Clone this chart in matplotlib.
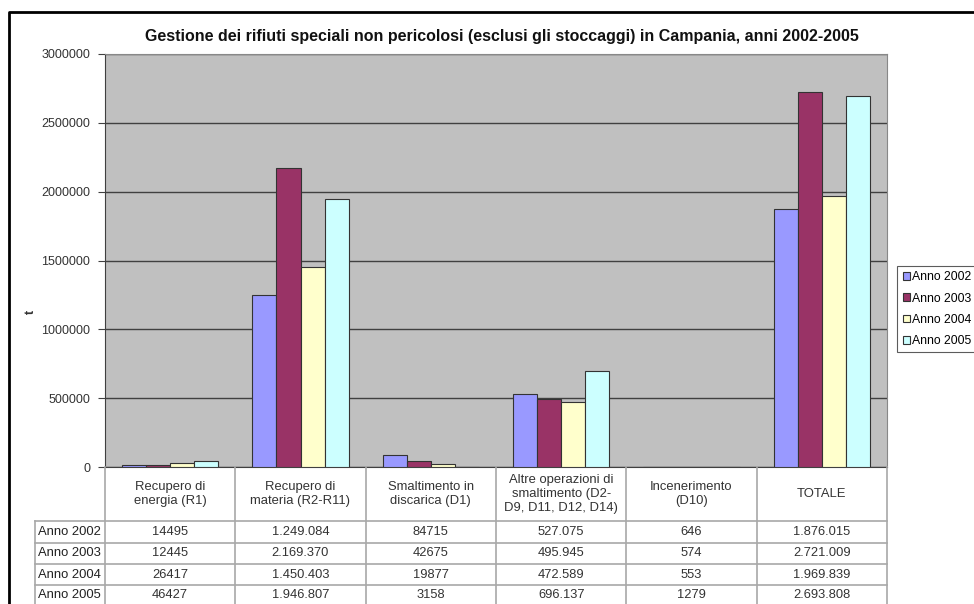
import matplotlib.pyplot as plt
from matplotlib.lines import Line2D
from matplotlib.patches import Patch
import numpy as np

plt.rcParams['font.family'] = ['Liberation Sans', 'DejaVu Sans']

categories = ['Recupero di\nenergia (R1)', 'Recupero di\nmateria (R2-R11)',
              'Smaltimento in\ndiscarica (D1)',
              'Altre operazioni di\nsmaltimento (D2-\nD9, D11, D12, D14)',
              'Incenerimento\n(D10)', 'TOTALE']
years = ['Anno 2002', 'Anno 2003', 'Anno 2004', 'Anno 2005']
anno_2002 = [14495, 1249084, 84715, 527075, 646, 1876015]
anno_2003 = [12445, 2169370, 42675, 495945, 574, 2721009]
anno_2004 = [26417, 1450403, 19877, 472589, 553, 1969839]
anno_2005 = [46427, 1946807, 3158, 696137, 1279, 2693808]
yticks = [0, 500000, 1000000, 1500000, 2000000, 2500000, 3000000]

series = [anno_2002, anno_2003, anno_2004, anno_2005]
colors = ['#9999ff', '#993366', '#ffffcc', '#ccffff']
txt = '#333333'
W, H = 974, 604


def fmt(v):
    # the source table only uses dots for the big numbers
    if v >= 100000:
        return '{:,}'.format(v).replace(',', '.')
    return str(v)


def fx(px):
    return px / W


def fy(py):
    return 1 - py / H


fig = plt.figure(figsize=(9.74, 6.04), dpi=100)
ax = fig.add_axes([fx(105), fy(467), fx(887) - fx(105), fy(54) - fy(467)])
ax.set_facecolor('#c0c0c0')

x = np.arange(len(categories))
bw = 0.185
for i, vals in enumerate(series):
    ax.bar(x + (i - 1.5) * bw, vals, bw, color=colors[i], edgecolor='#333333',
           linewidth=0.8, zorder=3, label=years[i])

ax.set_xlim(-0.5, len(categories) - 0.5)
ax.set_ylim(0, 3000000)
ax.set_yticks(yticks)
ax.set_yticklabels([str(v) for v in yticks], fontsize=9, color=txt)
ax.set_xticks([])
ax.grid(True, axis='y', color='#404040', lw=1, zorder=1)
ax.tick_params(axis='y', length=5, color='#404040', pad=5.5)
for s in ['top', 'right']:
    ax.spines[s].set_color('#888888')
for s in ['left', 'bottom']:
    ax.spines[s].set_color('#404040')

fig.text(fx(502), fy(37), 'Gestione dei rifiuti speciali non pericolosi (esclusi gli stoccaggi) in Campania, anni 2002-2005',
         ha='center', va='center', fontsize=11.5, fontweight='bold',
         family=['Liberation Sans Narrow', 'Liberation Sans'], color='#111111')
fig.text(fx(31), fy(312), 't', rotation=90, ha='center', va='center',
         fontsize=9, fontweight='bold', color=txt)

# table under the chart
gl = '#a8a8a8'
col_edges = [fx(105) + (fx(887) - fx(105)) * k / len(categories)
             for k in range(len(categories) + 1)]
row_edges = [fy(467), fy(521), fy(543), fy(564), fy(585), fy(606)]
for k, xe in enumerate(col_edges):
    fig.add_artist(Line2D([xe, xe], [fy(467), 0], color=gl, lw=1.2))
fig.add_artist(Line2D([fx(35), fx(35)], [row_edges[1], 0], color=gl, lw=1.2))
for ye in row_edges[1:5]:
    fig.add_artist(Line2D([fx(35), fx(887)], [ye, ye], color=gl, lw=1.2))

for j, lab in enumerate(categories):
    cx = (col_edges[j] + col_edges[j + 1]) / 2
    fig.text(cx, (row_edges[0] + row_edges[1]) / 2, lab, ha='center',
             va='center', fontsize=9.4, color=txt, linespacing=1.2)
for i, vals in enumerate(series):
    cy = (row_edges[i + 1] + row_edges[i + 2]) / 2
    fig.text(fx(38), cy, years[i], ha='left', va='center', fontsize=9.4,
             color='#222222')
    for j, v in enumerate(vals):
        cx = (col_edges[j] + col_edges[j + 1]) / 2
        fig.text(cx, cy, fmt(v), ha='center', va='center', fontsize=9.3,
                 color=txt)

handles = [Patch(facecolor=c, edgecolor='#333333', lw=0.8) for c in colors]
leg = fig.legend(handles, years, loc='upper left',
                 bbox_to_anchor=(fx(897), fy(266)), borderaxespad=0,
                 fontsize=8.8, handlelength=0.6, handleheight=0.6,
                 handletextpad=0.15, labelspacing=0.75, borderpad=0.45,
                 fancybox=False, frameon=True)
leg.get_frame().set_edgecolor('#333333')
leg.get_frame().set_linewidth(0.8)

# outer frame (only left and top are visible in the crop)
fig.add_artist(Line2D([fx(8.5), fx(8.5), 1], [0, fy(11.5), fy(11.5)],
                      color='black', lw=2))

fig.savefig('out.png', dpi=100)
